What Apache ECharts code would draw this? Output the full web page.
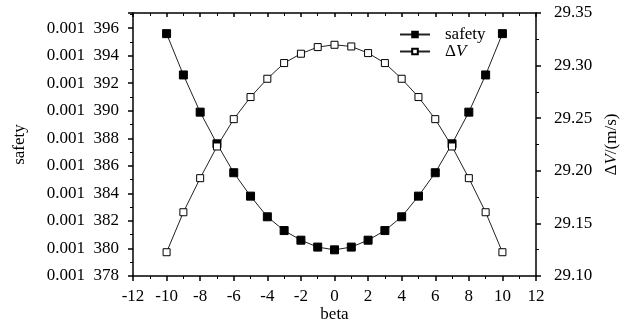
<!DOCTYPE html>
<html>
<head>
<meta charset="utf-8">
<script src="https://cdn.jsdelivr.net/npm/echarts@6/dist/echarts.min.js"></script>
<style>
html, body { margin: 0; padding: 0; background: #fff; }
#chart { width: 635px; height: 323px; }
</style>
</head>
<body>
<div id="chart"></div>
<script>
// beta 取值
var beta = [-10, -9, -8, -7, -6, -5, -4, -3, -2, -1, 0, 1, 2, 3, 4, 5, 6, 7, 8, 9, 10];
// safety（左轴）
var safety = [0.0013956, 0.0013926, 0.0013899, 0.0013876, 0.0013855, 0.0013838, 0.0013823,
              0.0013813, 0.0013806, 0.0013801, 0.0013799, 0.0013801, 0.0013806, 0.0013813,
              0.0013823, 0.0013838, 0.0013855, 0.0013876, 0.0013899, 0.0013926, 0.0013956];
// ΔV（右轴）
var deltaV = [29.1226, 29.1606, 29.1930, 29.2231, 29.2491, 29.2701, 29.2875, 29.3024, 29.3113,
              29.3176, 29.3198, 29.3182, 29.3119, 29.3024, 29.2875, 29.2701, 29.2491, 29.2231,
              29.1930, 29.1606, 29.1226];

var font = 'Liberation Serif';

function pairs(xs, ys) {
    return xs.map(function (x, i) { return [x, ys[i]]; });
}

// 坐标轴通用样式
var axisLineStyle = { color: '#000', width: 1.5 };

var chart = echarts.init(document.getElementById('chart'));

var option = {
    backgroundColor: '#fff',
    animation: false,
    textStyle: { fontFamily: font, color: '#000' },
    // 固定绘图区，不让 v6 自动收缩
    grid: { left: 133, right: 99, top: 13, bottom: 47, outerBoundsMode: 'none', containLabel: false },
    legend: {
        orient: 'vertical',
        left: 394,
        top: 21,
        itemWidth: 30,
        itemHeight: 7,
        itemGap: 0,
        textStyle: {
            fontFamily: font, fontSize: 17, color: '#000', padding: [0, 0, 0, 10],
            rich: {
                v: { fontFamily: font, fontSize: 17, fontStyle: 'italic', color: '#000' }
            }
        },
        formatter: function (name) {
            return name === 'dV' ? '\u0394{v|V}' : name;
        },
        data: ['safety', 'dV']
    },
    xAxis: [{
        type: 'value',
        min: -12, max: 12, interval: 2,
        name: 'beta',
        nameLocation: 'middle',
        nameGap: 30,
        nameMoveOverlap: false,
        nameTextStyle: { fontFamily: font, fontSize: 17, color: '#000' },
        axisLine: { onZero: false, lineStyle: axisLineStyle },
        axisTick: { inside: false, length: 5, lineStyle: axisLineStyle },
        minorTick: { show: true, splitNumber: 2, length: 3, lineStyle: { color: '#000' } },
        axisLabel: { fontFamily: font, fontSize: 17, color: '#000', margin: 12 },
        splitLine: { show: false }
    }, {
        type: 'value',
        position: 'top',
        min: -12, max: 12, interval: 2,
        axisLine: { onZero: false, lineStyle: axisLineStyle },
        axisTick: { inside: true, length: 4, lineStyle: axisLineStyle },
        minorTick: { show: true, splitNumber: 2, length: 3, lineStyle: { color: '#000' } },
        axisLabel: { show: false },
        splitLine: { show: false }
    }],
    yAxis: [{
        type: 'value',
        position: 'left',
        min: 0.001378, max: 0.0013971, interval: 0.000002,
        name: 'safety',
        nameLocation: 'middle',
        nameGap: 105,
        nameTextStyle: { fontFamily: font, fontSize: 17, color: '#000' },
        axisLine: { show: true, onZero: false, lineStyle: axisLineStyle },
        axisTick: { length: 5, lineStyle: axisLineStyle },
        minorTick: { show: true, splitNumber: 2, length: 3, lineStyle: { color: '#000' } },
        axisLabel: {
            fontFamily: font, fontSize: 17, color: '#000', margin: 14,
            showMaxLabel: false,
            formatter: function (v) {
                var n = Math.round(v * 1e6);
                return '0.001  ' + String(n).slice(1);
            }
        },
        splitLine: { show: false }
    }, {
        type: 'value',
        position: 'right',
        min: 29.10, max: 29.35, interval: 0.05,
        name: '\u0394{v|V}/(m/s)',
        nameLocation: 'middle',
        nameGap: 67,
        nameTextStyle: {
            fontFamily: font, fontSize: 17, color: '#000',
            rich: { v: { fontFamily: font, fontSize: 17, fontStyle: 'italic', color: '#000' } }
        },
        axisLine: { show: true, onZero: false, lineStyle: axisLineStyle },
        axisTick: { length: 5, lineStyle: axisLineStyle },
        minorTick: { show: true, splitNumber: 2, length: 3, lineStyle: { color: '#000' } },
        axisLabel: {
            fontFamily: font, fontSize: 17, color: '#000', margin: 18,
            formatter: function (v) { return v.toFixed(2); }
        },
        splitLine: { show: false }
    }],
    series: [{
        name: 'safety',
        type: 'line',
        xAxisIndex: 0,
        yAxisIndex: 0,
        data: pairs(beta, safety),
        symbol: 'rect',
        symbolSize: 8,
        lineStyle: { color: '#222', width: 1 },
        itemStyle: { color: '#000', borderColor: '#000', borderWidth: 1 }
    }, {
        name: 'dV',
        type: 'line',
        xAxisIndex: 0,
        yAxisIndex: 1,
        data: pairs(beta, deltaV),
        symbol: 'rect',
        symbolSize: 7,
        lineStyle: { color: '#222', width: 1 },
        itemStyle: { color: '#fff', borderColor: '#000', borderWidth: 1 }
    }]
};

chart.setOption(option);
window.addEventListener('resize', function () { chart.resize(); });
</script>
</body>
</html>
